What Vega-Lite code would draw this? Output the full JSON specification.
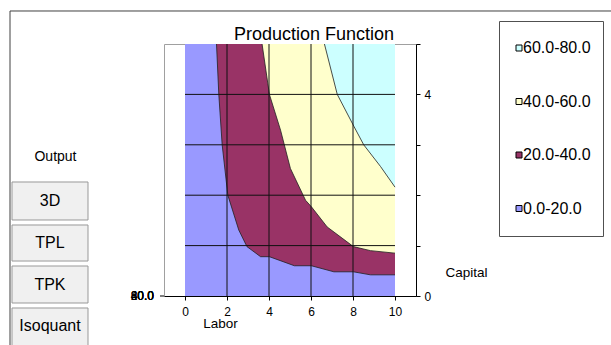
{
  "$schema": "https://vega.github.io/schema/vega-lite/v6.json",
  "width": 252,
  "height": 252,
  "autosize": "none",
  "padding": {"left": 164, "top": 44, "right": 195, "bottom": 49},
  "background": "white",
  "title": {"text": "Production Function", "fontSize": 18, "font": "Liberation Sans", "fontWeight": "normal", "color": "black", "anchor": "middle", "dx": 24, "offset": -34},
  "config": {"view": {"stroke": "#a0a0a0", "strokeWidth": 1}, "font": "Liberation Sans"},
  "data": {"values": [{}]},
  "datasets": {
    "curves": [
      {"c": "20.0-40.0", "L": 1.50, "K": 5},
      {"c": "20.0-40.0", "L": 1.61, "K": 4},
      {"c": "20.0-40.0", "L": 1.77, "K": 3},
      {"c": "20.0-40.0", "L": 2.04, "K": 2},
      {"c": "20.0-40.0", "L": 2.56, "K": 1.31},
      {"c": "20.0-40.0", "L": 2.95, "K": 0.98},
      {"c": "20.0-40.0", "L": 3.6, "K": 0.78},
      {"c": "20.0-40.0", "L": 4.02, "K": 0.78},
      {"c": "20.0-40.0", "L": 5.21, "K": 0.6},
      {"c": "20.0-40.0", "L": 6.02, "K": 0.6},
      {"c": "20.0-40.0", "L": 7.09, "K": 0.48},
      {"c": "20.0-40.0", "L": 8.02, "K": 0.48},
      {"c": "20.0-40.0", "L": 8.83, "K": 0.42},
      {"c": "20.0-40.0", "L": 10, "K": 0.42},
      {"c": "40.0-60.0", "L": 3.67, "K": 5},
      {"c": "40.0-60.0", "L": 4.02, "K": 4},
      {"c": "40.0-60.0", "L": 4.55, "K": 3.29},
      {"c": "40.0-60.0", "L": 5.02, "K": 2.53},
      {"c": "40.0-60.0", "L": 5.74, "K": 1.9},
      {"c": "40.0-60.0", "L": 6.02, "K": 1.77},
      {"c": "40.0-60.0", "L": 6.77, "K": 1.37},
      {"c": "40.0-60.0", "L": 8.02, "K": 0.98},
      {"c": "40.0-60.0", "L": 8.83, "K": 0.9},
      {"c": "40.0-60.0", "L": 10, "K": 0.85},
      {"c": "60.0-80.0", "L": 6.64, "K": 5},
      {"c": "60.0-80.0", "L": 7.25, "K": 4},
      {"c": "60.0-80.0", "L": 8.05, "K": 3.36},
      {"c": "60.0-80.0", "L": 8.51, "K": 3.0},
      {"c": "60.0-80.0", "L": 9.31, "K": 2.57},
      {"c": "60.0-80.0", "L": 10, "K": 2.16}
    ],
    "depth": [{"label": "0.0"}, {"label": "20.0"}, {"label": "40.0"}, {"label": "60.0"}, {"label": "80.0"}]
  },
  "layer": [
    {
      "mark": {"type": "rule", "color": "#404040", "strokeWidth": 1},
      "encoding": {"x": {"datum": -8.333, "type": "quantitative"}, "y": {"datum": 5.655, "type": "quantitative"}, "y2": {"datum": -1.0}}
    },
    {
      "mark": {"type": "rule", "color": "#404040", "strokeWidth": 1},
      "encoding": {"x": {"datum": -8.333, "type": "quantitative"}, "x2": {"datum": 20.4}, "y": {"datum": 5.655, "type": "quantitative"}}
    },
    {
      "mark": {"type": "rect"},
      "encoding": {
        "x": {"datum": 0, "type": "quantitative"}, "x2": {"datum": 10},
        "y": {"datum": 0, "type": "quantitative"}, "y2": {"datum": 5},
        "color": {"datum": "0.0-20.0", "type": "nominal"}
      }
    },
    {
      "data": {"name": "curves"},
      "transform": [{"filter": "datum.c == '20.0-40.0'"}],
      "mark": {"type": "area", "opacity": 1},
      "encoding": {
        "x": {"field": "L", "type": "quantitative", "scale": {"domain": [-1, 11], "nice": false, "zero": false},
          "axis": {"title": "Labor", "values": [0, 1, 2, 3, 4, 5, 6, 7, 8, 9, 10], "labelExpr": "datum.value % 2 == 0 ? datum.label : ''", "grid": false, "domainColor": "black", "tickColor": "black", "tickSize": 4, "labelFontSize": 12, "labelColor": "black", "labelFont": "Liberation Sans", "labelPadding": 6, "labelFlush": false, "labelOverlap": false, "titleFont": "Liberation Sans", "titleFontSize": 13.5, "titleFontWeight": "normal", "titleColor": "black", "titleX": 56, "titleY": 27, "titleBaseline": "middle", "titleAlign": "center"}},
        "y": {"field": "K", "type": "quantitative", "stack": null, "scale": {"domain": [0, 5], "nice": false, "zero": false},
          "axis": {"orient": "right", "title": "Capital", "values": [0, 1, 2, 3, 4, 5], "labelExpr": "datum.value == 0 || datum.value == 4 ? datum.label : ''", "grid": false, "domainColor": "black", "tickColor": "black", "tickSize": 4, "labelFontSize": 12, "labelColor": "black", "labelFont": "Liberation Sans", "labelPadding": 4, "labelFlush": false, "labelOverlap": false, "titleAngle": 0, "titleX": 50, "titleY": 228, "titleBaseline": "middle", "titleAlign": "center", "titleFont": "Liberation Sans", "titleFontSize": 13.5, "titleFontWeight": "normal", "titleColor": "black"}},
        "y2": {"datum": 5},
        "color": {"field": "c", "type": "nominal",
          "scale": {"domain": ["60.0-80.0", "40.0-60.0", "20.0-40.0", "0.0-20.0"], "range": ["#ccffff", "#ffffcc", "#993366", "#9999ff"]},
          "legend": {"title": null, "orient": "none", "legendX": 335, "legendY": -23, "symbolType": "square", "symbolSize": 36, "symbolStrokeColor": "black", "symbolStrokeWidth": 1, "symbolOpacity": 1, "labelFontSize": 16, "labelFont": "Liberation Sans", "labelColor": "black", "labelOffset": -4, "clipHeight": 30, "rowPadding": 23.5, "padding": 12, "strokeColor": "#505050", "fillColor": "white"}}
      }
    },
    {
      "data": {"name": "curves"},
      "transform": [{"filter": "datum.c == '40.0-60.0'"}],
      "mark": {"type": "area", "opacity": 1},
      "encoding": {
        "x": {"field": "L", "type": "quantitative"},
        "y": {"field": "K", "type": "quantitative", "stack": null},
        "y2": {"datum": 5},
        "color": {"field": "c", "type": "nominal"}
      }
    },
    {
      "data": {"name": "curves"},
      "transform": [{"filter": "datum.c == '60.0-80.0'"}],
      "mark": {"type": "area", "opacity": 1},
      "encoding": {
        "x": {"field": "L", "type": "quantitative"},
        "y": {"field": "K", "type": "quantitative", "stack": null},
        "y2": {"datum": 5},
        "color": {"field": "c", "type": "nominal"}
      }
    },
    {
      "data": {"name": "curves"},
      "mark": {"type": "line", "color": "#202020", "strokeWidth": 0.8},
      "encoding": {
        "x": {"field": "L", "type": "quantitative"},
        "y": {"field": "K", "type": "quantitative"},
        "detail": {"field": "c"}
      }
    },
    {
      "data": {"values": [{"K": 1}, {"K": 2}, {"K": 3}, {"K": 4}]},
      "mark": {"type": "rule", "color": "#111111", "strokeWidth": 1},
      "encoding": {"y": {"field": "K", "type": "quantitative"}, "x": {"datum": 0, "type": "quantitative"}, "x2": {"datum": 10}}
    },
    {
      "data": {"values": [{"L": 2}, {"L": 4}, {"L": 6}, {"L": 8}]},
      "mark": {"type": "rule", "color": "#111111", "strokeWidth": 1},
      "encoding": {"x": {"field": "L", "type": "quantitative"}, "y": {"datum": 0, "type": "quantitative"}, "y2": {"datum": 5}}
    },
    {
      "data": {"name": "depth"},
      "mark": {"type": "text", "align": "right", "baseline": "middle", "dx": -10, "fontSize": 12, "color": "black", "font": "Liberation Sans"},
      "encoding": {"x": {"datum": -1, "type": "quantitative"}, "y": {"datum": 0, "type": "quantitative"}, "text": {"field": "label"}}
    },
    {
      "mark": {"type": "rule", "color": "black", "strokeWidth": 1},
      "encoding": {"x": {"datum": -1.19, "type": "quantitative"}, "x2": {"datum": -1}, "y": {"datum": 0, "type": "quantitative"}}
    },
    {
      "mark": {"type": "rect", "fill": "#f0f0f0", "stroke": "#999999", "strokeWidth": 1},
      "encoding": {"x": {"datum": -8.238, "type": "quantitative"}, "x2": {"datum": -4.619}, "y": {"datum": 2.262, "type": "quantitative"}, "y2": {"datum": 1.508}}
    },
    {
      "mark": {"type": "rect", "fill": "#f0f0f0", "stroke": "#999999", "strokeWidth": 1},
      "encoding": {"x": {"datum": -8.238, "type": "quantitative"}, "x2": {"datum": -4.619}, "y": {"datum": 1.409, "type": "quantitative"}, "y2": {"datum": 0.694}}
    },
    {
      "mark": {"type": "rect", "fill": "#f0f0f0", "stroke": "#999999", "strokeWidth": 1},
      "encoding": {"x": {"datum": -8.238, "type": "quantitative"}, "x2": {"datum": -4.619}, "y": {"datum": 0.595, "type": "quantitative"}, "y2": {"datum": -0.139}}
    },
    {
      "mark": {"type": "rect", "fill": "#f0f0f0", "stroke": "#999999", "strokeWidth": 1},
      "encoding": {"x": {"datum": -8.238, "type": "quantitative"}, "x2": {"datum": -4.619}, "y": {"datum": -0.238, "type": "quantitative"}, "y2": {"datum": -1.0}}
    },
    {
      "mark": {"type": "text", "fontSize": 16, "font": "Liberation Sans", "color": "black", "baseline": "middle", "align": "center"},
      "encoding": {"x": {"datum": -6.43, "type": "quantitative"}, "y": {"datum": 1.885, "type": "quantitative"}, "text": {"value": "3D"}}
    },
    {
      "mark": {"type": "text", "fontSize": 16, "font": "Liberation Sans", "color": "black", "baseline": "middle", "align": "center"},
      "encoding": {"x": {"datum": -6.43, "type": "quantitative"}, "y": {"datum": 1.052, "type": "quantitative"}, "text": {"value": "TPL"}}
    },
    {
      "mark": {"type": "text", "fontSize": 16, "font": "Liberation Sans", "color": "black", "baseline": "middle", "align": "center"},
      "encoding": {"x": {"datum": -6.43, "type": "quantitative"}, "y": {"datum": 0.218, "type": "quantitative"}, "text": {"value": "TPK"}}
    },
    {
      "mark": {"type": "text", "fontSize": 16, "font": "Liberation Sans", "color": "black", "baseline": "middle", "align": "center"},
      "encoding": {"x": {"datum": -6.43, "type": "quantitative"}, "y": {"datum": -0.605, "type": "quantitative"}, "text": {"value": "Isoquant"}}
    },
    {
      "mark": {"type": "text", "fontSize": 14, "font": "Liberation Sans", "color": "black", "baseline": "middle", "align": "center"},
      "encoding": {"x": {"datum": -6.167, "type": "quantitative"}, "y": {"datum": 2.758, "type": "quantitative"}, "text": {"value": "Output"}}
    }
  ]
}
